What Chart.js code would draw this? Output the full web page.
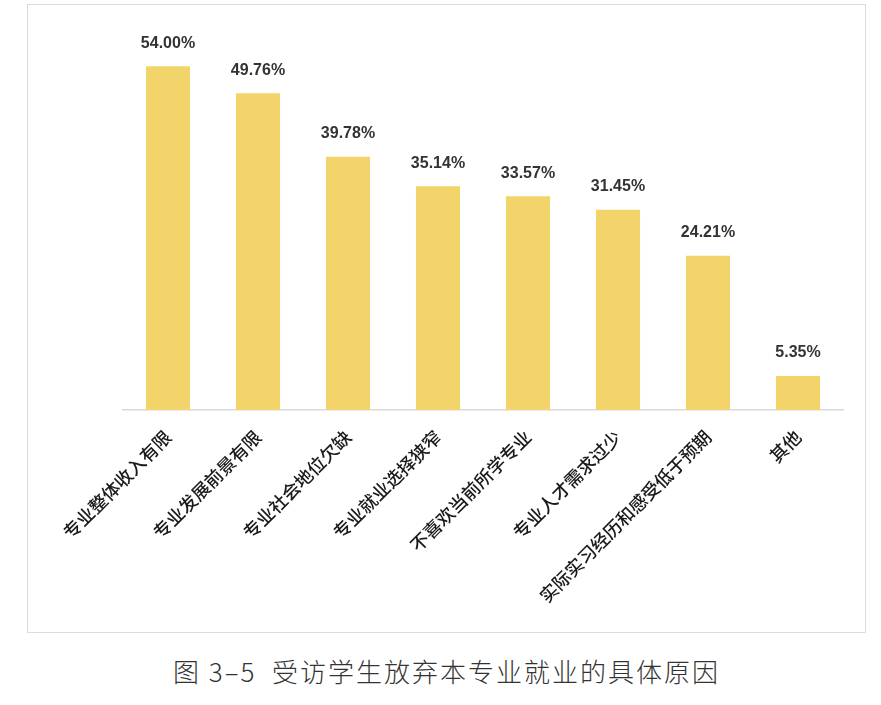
<!DOCTYPE html>
<html>
<head>
<meta charset="utf-8">
<script src="https://cdn.jsdelivr.net/npm/chart.js@4/dist/chart.umd.min.js"></script>
<style>
    body { margin: 0; background: #fff; width: 881px; height: 705px; position: relative; }
    #box { position: absolute; left: 27px; top: 4px; width: 837px; height: 627px; border: 1px solid #dcdcdc; }
    #caption { position: absolute; left: 6px; width: 881px; top: 652px; text-align: center; letter-spacing: 2px;
        font-family: "Noto Sans CJK SC", sans-serif; font-size: 26px; font-weight: 300; color: #333; }
</style>
</head>
<body>
<div id="box"><canvas id="chart"></canvas></div>
<div id="caption">图 3–5&nbsp;&nbsp;受访学生放弃本专业就业的具体原因</div>
<script>
const categories = ['专业整体收入有限', '专业发展前景有限', '专业社会地位欠缺', '专业就业选择狭窄',
    '不喜欢当前所学专业', '专业人才需求过少', '实际实习经历和感受低于预期', '其他'];
const percentages = [54.00, 49.76, 39.78, 35.14, 33.57, 31.45, 24.21, 5.35];

// draws the percentage above every bar
const valueLabels = {
    id: 'valueLabels',
    afterDatasetsDraw(chart) {
        const ctx = chart.ctx;
        const meta = chart.getDatasetMeta(0);
        ctx.save();
        ctx.font = 'bold 16px "Liberation Sans", Arial, sans-serif';
        ctx.fillStyle = '#333';
        ctx.textAlign = 'center';
        ctx.textBaseline = 'middle';
        meta.data.forEach((bar, i) => {
            ctx.fillText(percentages[i].toFixed(2) + '%', bar.x, bar.y - 23);
        });
        ctx.restore();
    }
};

window.onload = function() {
    new Chart(document.getElementById('chart'), {
        type: 'bar',
        data: {
            labels: categories,
            datasets: [{
                data: percentages,
                backgroundColor: '#F2D46B',
                categoryPercentage: 1,
                barPercentage: 0.49
            }]
        },
        options: {
            responsive: true,
            maintainAspectRatio: false,
            animation: false,
            layout: { padding: { left: 95, right: 22, top: 23, bottom: 0 } },
            plugins: {
                legend: { display: false },
                tooltip: { enabled: false }
            },
            scales: {
                x: {
                    grid: { display: false },
                    border: { display: true, color: '#d9d9d9', width: 1.5 },
                    afterFit: function(scale) { scale.height = 222; },
                    ticks: {
                        minRotation: 45,
                        maxRotation: 45,
                        padding: 8,
                        color: '#1a1a1a',
                        font: { family: '"Noto Sans CJK SC", sans-serif', size: 18, weight: 500 }
                    }
                },
                y: {
                    display: false,
                    min: 0,
                    max: 60
                }
            }
        },
        plugins: [valueLabels]
    });
};
</script>
</body>
</html>
